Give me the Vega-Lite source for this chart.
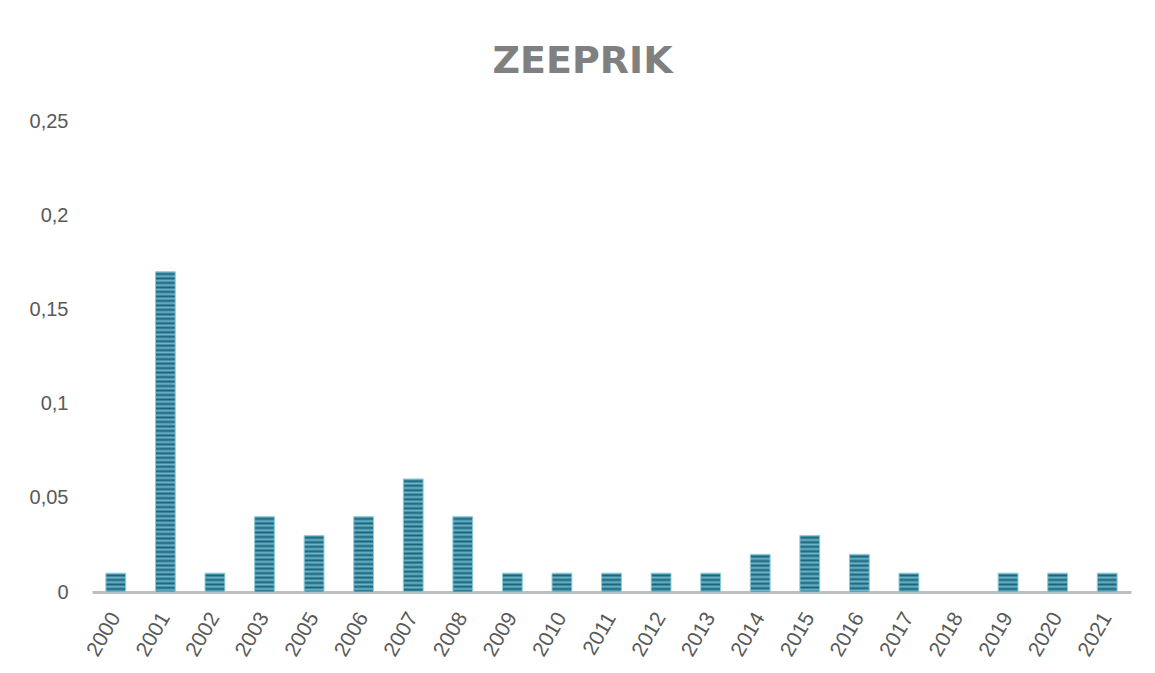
{
  "$schema": "https://vega.github.io/schema/vega-lite/v6.json",
  "width": 1039,
  "height": 471,
  "autosize": {"type": "none"},
  "padding": {"left": 92, "top": 121, "right": 24, "bottom": 81},
  "background": "white",
  "title": {
    "text": "ZEEPRIK",
    "font": "DejaVu Sans",
    "fontWeight": "bold",
    "fontSize": 38,
    "color": "#808080",
    "anchor": "middle",
    "baseline": "alphabetic",
    "offset": 48,
    "dx": -29,
    "dy": 48
  },
  "data": {
    "values": [
      {"jaar": "2000", "waarde": 0.01},
      {"jaar": "2001", "waarde": 0.17},
      {"jaar": "2002", "waarde": 0.01},
      {"jaar": "2003", "waarde": 0.04},
      {"jaar": "2005", "waarde": 0.03},
      {"jaar": "2006", "waarde": 0.04},
      {"jaar": "2007", "waarde": 0.06},
      {"jaar": "2008", "waarde": 0.04},
      {"jaar": "2009", "waarde": 0.01},
      {"jaar": "2010", "waarde": 0.01},
      {"jaar": "2011", "waarde": 0.01},
      {"jaar": "2012", "waarde": 0.01},
      {"jaar": "2013", "waarde": 0.01},
      {"jaar": "2014", "waarde": 0.02},
      {"jaar": "2015", "waarde": 0.03},
      {"jaar": "2016", "waarde": 0.02},
      {"jaar": "2017", "waarde": 0.01},
      {"jaar": "2018", "waarde": 0},
      {"jaar": "2019", "waarde": 0.01},
      {"jaar": "2020", "waarde": 0.01},
      {"jaar": "2021", "waarde": 0.01}
    ]
  },
  "mark": {"type": "bar", "strokeWidth": 1},
  "encoding": {
    "x": {
      "field": "jaar",
      "type": "ordinal",
      "sort": null,
      "scale": {"paddingInner": 0.6, "paddingOuter": 0.28},
      "axis": {
        "title": null,
        "labelAngle": -60,
        "labelFont": "Liberation Sans",
        "labelFontSize": 21,
        "labelColor": "#595959",
        "labelPadding": 22,
        "ticks": false,
        "domainColor": "#bfbfbf",
        "domainWidth": 3
      }
    },
    "y": {
      "field": "waarde",
      "type": "quantitative",
      "scale": {"domain": [0, 0.25], "nice": false},
      "axis": {
        "title": null,
        "values": [0, 0.05, 0.1, 0.15, 0.2, 0.25],
        "labelExpr": "replace(format(datum.value, '.2~f'), '.', ',')",
        "labelFont": "Liberation Sans",
        "labelFontSize": 20,
        "labelColor": "#595959",
        "labelPadding": 24,
        "ticks": false,
        "domain": false,
        "grid": false
      }
    },
    "stroke": {
      "condition": {"test": "datum.waarde > 0", "value": "#8fcbd9"},
      "value": null
    },
    "fill": {
      "condition": [
        {"test": "datum.waarde >= 0.1", "value": {"gradient": "linear", "x1": 0, "y1": 0, "x2": 0, "y2": 1, "stops": [
          {"offset": 0, "color": "#6ab6ca"}, {"offset": 0.007, "color": "#1b637a"}, {"offset": 0.014, "color": "#6ab6ca"}, {"offset": 0.021, "color": "#1b637a"}, {"offset": 0.028, "color": "#6ab6ca"}, {"offset": 0.035, "color": "#1b637a"}, {"offset": 0.042, "color": "#6ab6ca"}, {"offset": 0.049, "color": "#1b637a"}, {"offset": 0.056, "color": "#6ab6ca"}, {"offset": 0.063, "color": "#1b637a"},
          {"offset": 0.07, "color": "#6ab6ca"}, {"offset": 0.077, "color": "#1b637a"}, {"offset": 0.084, "color": "#6ab6ca"}, {"offset": 0.091, "color": "#1b637a"}, {"offset": 0.098, "color": "#6ab6ca"}, {"offset": 0.105, "color": "#1b637a"}, {"offset": 0.112, "color": "#6ab6ca"}, {"offset": 0.119, "color": "#1b637a"}, {"offset": 0.126, "color": "#6ab6ca"}, {"offset": 0.133, "color": "#1b637a"},
          {"offset": 0.14, "color": "#6ab6ca"}, {"offset": 0.147, "color": "#1b637a"}, {"offset": 0.154, "color": "#6ab6ca"}, {"offset": 0.161, "color": "#1b637a"}, {"offset": 0.168, "color": "#6ab6ca"}, {"offset": 0.175, "color": "#1b637a"}, {"offset": 0.182, "color": "#6ab6ca"}, {"offset": 0.189, "color": "#1b637a"}, {"offset": 0.196, "color": "#6ab6ca"}, {"offset": 0.203, "color": "#1b637a"},
          {"offset": 0.21, "color": "#6ab6ca"}, {"offset": 0.217, "color": "#1b637a"}, {"offset": 0.224, "color": "#6ab6ca"}, {"offset": 0.231, "color": "#1b637a"}, {"offset": 0.238, "color": "#6ab6ca"}, {"offset": 0.245, "color": "#1b637a"}, {"offset": 0.252, "color": "#6ab6ca"}, {"offset": 0.259, "color": "#1b637a"}, {"offset": 0.266, "color": "#6ab6ca"}, {"offset": 0.273, "color": "#1b637a"},
          {"offset": 0.28, "color": "#6ab6ca"}, {"offset": 0.287, "color": "#1b637a"}, {"offset": 0.294, "color": "#6ab6ca"}, {"offset": 0.301, "color": "#1b637a"}, {"offset": 0.308, "color": "#6ab6ca"}, {"offset": 0.315, "color": "#1b637a"}, {"offset": 0.322, "color": "#6ab6ca"}, {"offset": 0.329, "color": "#1b637a"}, {"offset": 0.336, "color": "#6ab6ca"}, {"offset": 0.343, "color": "#1b637a"},
          {"offset": 0.35, "color": "#6ab6ca"}, {"offset": 0.357, "color": "#1b637a"}, {"offset": 0.364, "color": "#6ab6ca"}, {"offset": 0.371, "color": "#1b637a"}, {"offset": 0.378, "color": "#6ab6ca"}, {"offset": 0.385, "color": "#1b637a"}, {"offset": 0.392, "color": "#6ab6ca"}, {"offset": 0.399, "color": "#1b637a"}, {"offset": 0.406, "color": "#6ab6ca"}, {"offset": 0.413, "color": "#1b637a"},
          {"offset": 0.42, "color": "#6ab6ca"}, {"offset": 0.427, "color": "#1b637a"}, {"offset": 0.434, "color": "#6ab6ca"}, {"offset": 0.441, "color": "#1b637a"}, {"offset": 0.448, "color": "#6ab6ca"}, {"offset": 0.455, "color": "#1b637a"}, {"offset": 0.462, "color": "#6ab6ca"}, {"offset": 0.469, "color": "#1b637a"}, {"offset": 0.476, "color": "#6ab6ca"}, {"offset": 0.483, "color": "#1b637a"},
          {"offset": 0.49, "color": "#6ab6ca"}, {"offset": 0.497, "color": "#1b637a"}, {"offset": 0.504, "color": "#6ab6ca"}, {"offset": 0.511, "color": "#1b637a"}, {"offset": 0.518, "color": "#6ab6ca"}, {"offset": 0.525, "color": "#1b637a"}, {"offset": 0.532, "color": "#6ab6ca"}, {"offset": 0.539, "color": "#1b637a"}, {"offset": 0.546, "color": "#6ab6ca"}, {"offset": 0.553, "color": "#1b637a"},
          {"offset": 0.56, "color": "#6ab6ca"}, {"offset": 0.567, "color": "#1b637a"}, {"offset": 0.574, "color": "#6ab6ca"}, {"offset": 0.581, "color": "#1b637a"}, {"offset": 0.588, "color": "#6ab6ca"}, {"offset": 0.595, "color": "#1b637a"}, {"offset": 0.602, "color": "#6ab6ca"}, {"offset": 0.609, "color": "#1b637a"}, {"offset": 0.616, "color": "#6ab6ca"}, {"offset": 0.623, "color": "#1b637a"},
          {"offset": 0.63, "color": "#6ab6ca"}, {"offset": 0.637, "color": "#1b637a"}, {"offset": 0.644, "color": "#6ab6ca"}, {"offset": 0.651, "color": "#1b637a"}, {"offset": 0.658, "color": "#6ab6ca"}, {"offset": 0.665, "color": "#1b637a"}, {"offset": 0.672, "color": "#6ab6ca"}, {"offset": 0.679, "color": "#1b637a"}, {"offset": 0.686, "color": "#6ab6ca"}, {"offset": 0.693, "color": "#1b637a"},
          {"offset": 0.7, "color": "#6ab6ca"}, {"offset": 0.707, "color": "#1b637a"}, {"offset": 0.714, "color": "#6ab6ca"}, {"offset": 0.721, "color": "#1b637a"}, {"offset": 0.728, "color": "#6ab6ca"}, {"offset": 0.735, "color": "#1b637a"}, {"offset": 0.742, "color": "#6ab6ca"}, {"offset": 0.749, "color": "#1b637a"}, {"offset": 0.756, "color": "#6ab6ca"}, {"offset": 0.763, "color": "#1b637a"},
          {"offset": 0.77, "color": "#6ab6ca"}, {"offset": 0.777, "color": "#1b637a"}, {"offset": 0.784, "color": "#6ab6ca"}, {"offset": 0.791, "color": "#1b637a"}, {"offset": 0.798, "color": "#6ab6ca"}, {"offset": 0.805, "color": "#1b637a"}, {"offset": 0.812, "color": "#6ab6ca"}, {"offset": 0.819, "color": "#1b637a"}, {"offset": 0.826, "color": "#6ab6ca"}, {"offset": 0.833, "color": "#1b637a"},
          {"offset": 0.84, "color": "#6ab6ca"}, {"offset": 0.847, "color": "#1b637a"}, {"offset": 0.854, "color": "#6ab6ca"}, {"offset": 0.861, "color": "#1b637a"}, {"offset": 0.868, "color": "#6ab6ca"}, {"offset": 0.875, "color": "#1b637a"}, {"offset": 0.882, "color": "#6ab6ca"}, {"offset": 0.889, "color": "#1b637a"}, {"offset": 0.896, "color": "#6ab6ca"}, {"offset": 0.903, "color": "#1b637a"},
          {"offset": 0.91, "color": "#6ab6ca"}, {"offset": 0.917, "color": "#1b637a"}, {"offset": 0.924, "color": "#6ab6ca"}, {"offset": 0.931, "color": "#1b637a"}, {"offset": 0.938, "color": "#6ab6ca"}, {"offset": 0.945, "color": "#1b637a"}, {"offset": 0.952, "color": "#6ab6ca"}, {"offset": 0.959, "color": "#1b637a"}, {"offset": 0.966, "color": "#6ab6ca"}, {"offset": 0.973, "color": "#1b637a"},
          {"offset": 0.98, "color": "#6ab6ca"}, {"offset": 0.987, "color": "#1b637a"}, {"offset": 0.994, "color": "#6ab6ca"}, {"offset": 1, "color": "#1b637a"}
        ]}},
        {"test": "datum.waarde >= 0.05", "value": {"gradient": "linear", "x1": 0, "y1": 0, "x2": 0, "y2": 1, "stops": [
          {"offset": 0, "color": "#6ab6ca"}, {"offset": 0.02, "color": "#1b637a"}, {"offset": 0.04, "color": "#6ab6ca"}, {"offset": 0.06, "color": "#1b637a"}, {"offset": 0.08, "color": "#6ab6ca"}, {"offset": 0.1, "color": "#1b637a"}, {"offset": 0.12, "color": "#6ab6ca"}, {"offset": 0.14, "color": "#1b637a"}, {"offset": 0.16, "color": "#6ab6ca"}, {"offset": 0.18, "color": "#1b637a"},
          {"offset": 0.2, "color": "#6ab6ca"}, {"offset": 0.22, "color": "#1b637a"}, {"offset": 0.24, "color": "#6ab6ca"}, {"offset": 0.26, "color": "#1b637a"}, {"offset": 0.28, "color": "#6ab6ca"}, {"offset": 0.3, "color": "#1b637a"}, {"offset": 0.32, "color": "#6ab6ca"}, {"offset": 0.34, "color": "#1b637a"}, {"offset": 0.36, "color": "#6ab6ca"}, {"offset": 0.38, "color": "#1b637a"},
          {"offset": 0.4, "color": "#6ab6ca"}, {"offset": 0.42, "color": "#1b637a"}, {"offset": 0.44, "color": "#6ab6ca"}, {"offset": 0.46, "color": "#1b637a"}, {"offset": 0.48, "color": "#6ab6ca"}, {"offset": 0.5, "color": "#1b637a"}, {"offset": 0.52, "color": "#6ab6ca"}, {"offset": 0.54, "color": "#1b637a"}, {"offset": 0.56, "color": "#6ab6ca"}, {"offset": 0.58, "color": "#1b637a"},
          {"offset": 0.6, "color": "#6ab6ca"}, {"offset": 0.62, "color": "#1b637a"}, {"offset": 0.64, "color": "#6ab6ca"}, {"offset": 0.66, "color": "#1b637a"}, {"offset": 0.68, "color": "#6ab6ca"}, {"offset": 0.7, "color": "#1b637a"}, {"offset": 0.72, "color": "#6ab6ca"}, {"offset": 0.74, "color": "#1b637a"}, {"offset": 0.76, "color": "#6ab6ca"}, {"offset": 0.78, "color": "#1b637a"},
          {"offset": 0.8, "color": "#6ab6ca"}, {"offset": 0.82, "color": "#1b637a"}, {"offset": 0.84, "color": "#6ab6ca"}, {"offset": 0.86, "color": "#1b637a"}, {"offset": 0.88, "color": "#6ab6ca"}, {"offset": 0.9, "color": "#1b637a"}, {"offset": 0.92, "color": "#6ab6ca"}, {"offset": 0.94, "color": "#1b637a"}, {"offset": 0.96, "color": "#6ab6ca"}, {"offset": 0.98, "color": "#1b637a"},
          {"offset": 1, "color": "#6ab6ca"}
        ]}},
        {"test": "datum.waarde >= 0.035", "value": {"gradient": "linear", "x1": 0, "y1": 0, "x2": 0, "y2": 1, "stops": [
          {"offset": 0, "color": "#6ab6ca"}, {"offset": 0.03, "color": "#1b637a"}, {"offset": 0.06, "color": "#6ab6ca"}, {"offset": 0.09, "color": "#1b637a"}, {"offset": 0.12, "color": "#6ab6ca"}, {"offset": 0.15, "color": "#1b637a"}, {"offset": 0.18, "color": "#6ab6ca"}, {"offset": 0.21, "color": "#1b637a"}, {"offset": 0.24, "color": "#6ab6ca"}, {"offset": 0.27, "color": "#1b637a"},
          {"offset": 0.3, "color": "#6ab6ca"}, {"offset": 0.33, "color": "#1b637a"}, {"offset": 0.36, "color": "#6ab6ca"}, {"offset": 0.39, "color": "#1b637a"}, {"offset": 0.42, "color": "#6ab6ca"}, {"offset": 0.45, "color": "#1b637a"}, {"offset": 0.48, "color": "#6ab6ca"}, {"offset": 0.51, "color": "#1b637a"}, {"offset": 0.54, "color": "#6ab6ca"}, {"offset": 0.57, "color": "#1b637a"},
          {"offset": 0.6, "color": "#6ab6ca"}, {"offset": 0.63, "color": "#1b637a"}, {"offset": 0.66, "color": "#6ab6ca"}, {"offset": 0.69, "color": "#1b637a"}, {"offset": 0.72, "color": "#6ab6ca"}, {"offset": 0.75, "color": "#1b637a"}, {"offset": 0.78, "color": "#6ab6ca"}, {"offset": 0.81, "color": "#1b637a"}, {"offset": 0.84, "color": "#6ab6ca"}, {"offset": 0.87, "color": "#1b637a"},
          {"offset": 0.9, "color": "#6ab6ca"}, {"offset": 0.93, "color": "#1b637a"}, {"offset": 0.96, "color": "#6ab6ca"}, {"offset": 0.99, "color": "#1b637a"}, {"offset": 1, "color": "#1b637a"}
        ]}},
        {"test": "datum.waarde >= 0.025", "value": {"gradient": "linear", "x1": 0, "y1": 0, "x2": 0, "y2": 1, "stops": [
          {"offset": 0, "color": "#6ab6ca"}, {"offset": 0.04, "color": "#1b637a"}, {"offset": 0.08, "color": "#6ab6ca"}, {"offset": 0.12, "color": "#1b637a"}, {"offset": 0.16, "color": "#6ab6ca"}, {"offset": 0.2, "color": "#1b637a"}, {"offset": 0.24, "color": "#6ab6ca"}, {"offset": 0.28, "color": "#1b637a"}, {"offset": 0.32, "color": "#6ab6ca"}, {"offset": 0.36, "color": "#1b637a"},
          {"offset": 0.4, "color": "#6ab6ca"}, {"offset": 0.44, "color": "#1b637a"}, {"offset": 0.48, "color": "#6ab6ca"}, {"offset": 0.52, "color": "#1b637a"}, {"offset": 0.56, "color": "#6ab6ca"}, {"offset": 0.6, "color": "#1b637a"}, {"offset": 0.64, "color": "#6ab6ca"}, {"offset": 0.68, "color": "#1b637a"}, {"offset": 0.72, "color": "#6ab6ca"}, {"offset": 0.76, "color": "#1b637a"},
          {"offset": 0.8, "color": "#6ab6ca"}, {"offset": 0.84, "color": "#1b637a"}, {"offset": 0.88, "color": "#6ab6ca"}, {"offset": 0.92, "color": "#1b637a"}, {"offset": 0.96, "color": "#6ab6ca"}, {"offset": 1, "color": "#1b637a"}
        ]}},
        {"test": "datum.waarde >= 0.015", "value": {"gradient": "linear", "x1": 0, "y1": 0, "x2": 0, "y2": 1, "stops": [
          {"offset": 0, "color": "#6ab6ca"}, {"offset": 0.06, "color": "#1b637a"}, {"offset": 0.12, "color": "#6ab6ca"}, {"offset": 0.18, "color": "#1b637a"}, {"offset": 0.24, "color": "#6ab6ca"}, {"offset": 0.3, "color": "#1b637a"}, {"offset": 0.36, "color": "#6ab6ca"}, {"offset": 0.42, "color": "#1b637a"}, {"offset": 0.48, "color": "#6ab6ca"}, {"offset": 0.54, "color": "#1b637a"},
          {"offset": 0.6, "color": "#6ab6ca"}, {"offset": 0.66, "color": "#1b637a"}, {"offset": 0.72, "color": "#6ab6ca"}, {"offset": 0.78, "color": "#1b637a"}, {"offset": 0.84, "color": "#6ab6ca"}, {"offset": 0.9, "color": "#1b637a"}, {"offset": 0.96, "color": "#6ab6ca"}, {"offset": 1, "color": "#1b637a"}
        ]}}
      ],
      "value": {"gradient": "linear", "x1": 0, "y1": 0, "x2": 0, "y2": 1, "stops": [
        {"offset": 0, "color": "#6ab6ca"}, {"offset": 0.12, "color": "#1b637a"}, {"offset": 0.24, "color": "#6ab6ca"}, {"offset": 0.36, "color": "#1b637a"}, {"offset": 0.48, "color": "#6ab6ca"}, {"offset": 0.6, "color": "#1b637a"}, {"offset": 0.72, "color": "#6ab6ca"}, {"offset": 0.84, "color": "#1b637a"}, {"offset": 0.96, "color": "#6ab6ca"}, {"offset": 1, "color": "#1b637a"}
      ]}
    }
  },
  "config": {"view": {"stroke": null}}
}
